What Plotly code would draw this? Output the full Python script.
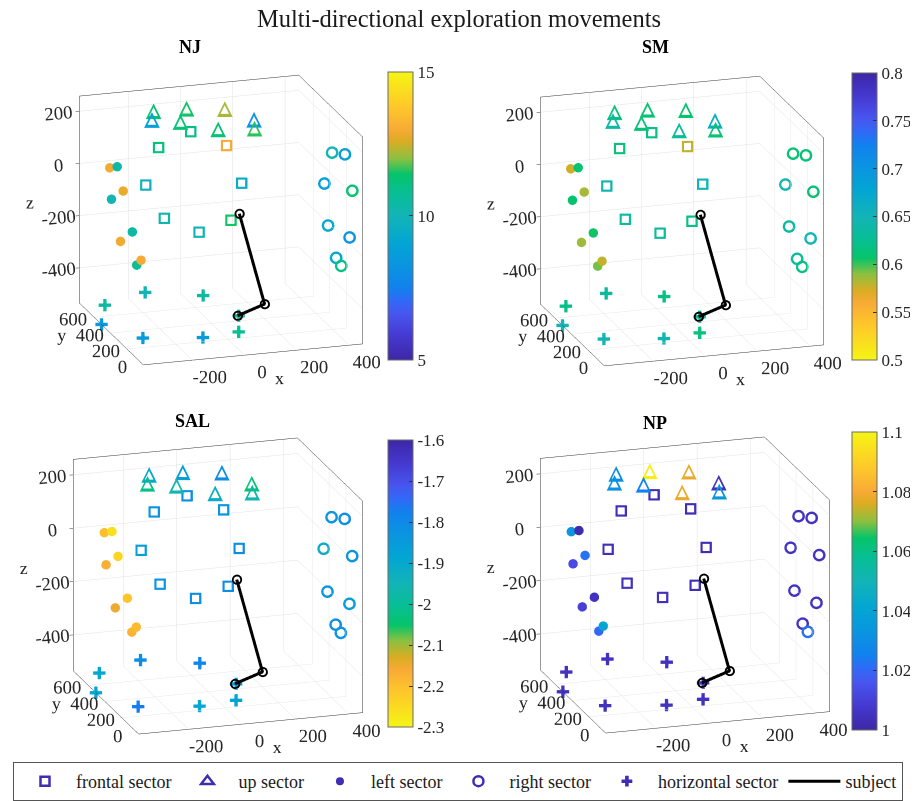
import plotly.graph_objects as go
from plotly.colors import sample_colorscale

SERIF = "Liberation Serif"
GLYPH = "DejaVu Sans"

# ---------------- target positions (same in all panels) ----------------
front_x = [-2, -125, 135, -174, 193, -103, 30, 152]
front_y = [650, 650, 650, 650, 650, 650, 650, 650]
front_z = [124, 75, 58, -64, -92, -198, -264, -230]

up_x = [-129, -166, -5, -74, 127, 31, 190, 160]
up_y = [698, 600, 691, 546, 645, 420, 490, 389]
up_z = [200, 200, 200, 200, 200, 200, 200, 200]

left_x = [-360, -360, -360, -360, -360, -360, -360, -360]
left_y = [496, 405, 332, 475, 221, 365, 168, 115]
left_z = [67, 99, 28, -47, -95, -175, -206, -171]

right_x = [440, 440, 440, 440, 440, 440, 440, 440]
right_y = [337, 181, 431, 91, 386, 124, 288, 226]
right_z = [97, 138, -50, 26, -197, -163, -291, -303]

horiz_x = [-148, 71, -306, -387, -292, -81, 64, 122]
horiz_y = [740, 731, 728, 511, 310, 250, 276, 460]
horiz_z = [-505, -535, -535, -535, -535, -535, -535, -535]

subj_x = [158, 242, 106]
subj_y = [565, 525, 421]
subj_z = [-180, -522, -522]

# ---------------- values per panel ----------------
panels = ["NJ", "SM", "SAL", "NP"]
cmins = {"NJ": 5, "SM": 0.5, "SAL": -2.3, "NP": 1.0}
cmaxs = {"NJ": 15, "SM": 0.8, "SAL": -1.6, "NP": 1.1}
reverse = {"NJ": False, "SM": True, "SAL": True, "NP": False}
cb_ticks = {
    "NJ": [5, 10, 15],
    "SM": [0.5, 0.55, 0.6, 0.65, 0.7, 0.75, 0.8],
    "SAL": [-2.3, -2.2, -2.1, -2.0, -1.9, -1.8, -1.7, -1.6],
    "NP": [1.0, 1.02, 1.04, 1.06, 1.08, 1.1],
}
cb_labels = {
    "NJ": ["5", "10", "15"],
    "SM": ["0.5", "0.55", "0.6", "0.65", "0.7", "0.75", "0.8"],
    "SAL": ["-2.3", "-2.2", "-2.1", "-2", "-1.9", "-1.8", "-1.7", "-1.6"],
    "NP": ["1", "1.02", "1.04", "1.06", "1.08", "1.1"],
}

front_v = {
    "NJ": [11.0, 11.2, 13.0, 9.8, 9.5, 10.2, 10.0, 11.5],
    "SM": [0.62, 0.614, 0.578, 0.644, 0.65, 0.632, 0.635, 0.62],
    "SAL": [-1.81, -1.83, -1.83, -1.86, -1.81, -1.83, -1.81, -1.81],
    "NP": [1.003, 1.004, 1.003, 1.004, 1.003, 1.005, 1.004, 1.003],
}
up_v = {
    "NJ": [11.3, 8.8, 11.5, 11.2, 12.2, 11.3, 8.2, 11.6],
    "SM": [0.614, 0.64, 0.61, 0.614, 0.608, 0.63, 0.66, 0.61],
    "SAL": [-1.89, -2.02, -1.86, -1.96, -1.81, -1.92, -2.04, -1.96],
    "NP": [1.03, 1.032, 1.098, 1.025, 1.078, 1.078, 1.005, 1.035],
}
left_v = {
    "NJ": [12.9, 10.3, 12.8, 10.1, 10.5, 12.9, 10.8, 13.0],
    "SM": [0.575, 0.61, 0.584, 0.608, 0.605, 0.586, 0.593, 0.578],
    "SAL": [-2.195, -2.26, -2.24, -2.17, -2.21, -2.15, -2.18, -2.19],
    "NP": [1.033, 1.002, 1.022, 1.013, 1.005, 1.01, 1.02, 1.04],
}
right_v = {
    "NJ": [10.0, 8.8, 8.7, 11.3, 9.2, 8.3, 9.2, 11.0],
    "SM": [0.612, 0.612, 0.645, 0.612, 0.635, 0.65, 0.635, 0.618],
    "SAL": [-1.83, -1.81, -1.915, -1.83, -1.83, -1.86, -1.81, -1.83],
    "NP": [1.005, 1.005, 1.005, 1.005, 1.005, 1.005, 1.005, 1.022],
}
horiz_v = {
    "NJ": [10.0, 10.5, 10.5, 8.5, 8.6, 8.6, 10.8, 10.5],
    "SM": [0.63, 0.618, 0.62, 0.65, 0.65, 0.645, 0.615, 0.63],
    "SAL": [-1.81, -1.79, -1.89, -1.88, -1.77, -1.89, -1.88, -1.85],
    "NP": [1.005, 1.005, 1.005, 1.005, 1.005, 1.005, 1.005, 1.005],
}

parula = [
    [0.00, "#3D27A6"], [0.08, "#4538CF"], [0.16, "#4756EF"], [0.21, "#2E6BF6"],
    [0.25, "#1181EE"], [0.33, "#0A95E0"], [0.41, "#03A6D2"], [0.50, "#12B4B6"],
    [0.58, "#08BE94"], [0.645, "#06C46A"], [0.70, "#8CC040"], [0.76, "#DCAC22"],
    [0.80, "#F8AA36"], [0.88, "#FEC82A"], [1.00, "#F5F514"],
]

# ---------------- layout geometry (figure pixels; page has an 8px body margin) ----------------
W, H = 910, 793
scene_centers = {"NJ": (213, 213), "SM": (674, 214), "SAL": (210, 581), "NP": (677, 580)}
zoom = {"NJ": 1.36, "SM": 1.36, "SAL": 1.39, "NP": 1.39}
cb_geom = {"NJ": (380, 65, 353), "SM": (844, 66, 353), "SAL": (380, 435, 722), "NP": (844, 427, 725)}
title_pos = {"NJ": (182, 39), "SM": (647, 39), "SAL": (184, 415), "NP": (647, 417)}

x_rng, y_rng, z_rng = [-387, 452], [0, 778], [-535, 258]
span = max(x_rng[1] - x_rng[0], y_rng[1] - y_rng[0], z_rng[1] - z_rng[0])
view_dir = (-0.2857, -0.9089, 0.304)


def colors_for(vals, p):
    lo, hi = cmins[p], cmaxs[p]
    ts = [min(max((v - lo) / (hi - lo), 0), 1) for v in vals]
    if reverse[p]:
        ts = [1 - t for t in ts]
    return sample_colorscale(parula, ts)


def axis(title, rng, tv, angle=None, ticklen=4, tickcolor="#333333"):
    d = dict(
        title=dict(text=title, font=dict(family=SERIF, size=18, color="#262626")),
        range=rng, autorange=False, tickvals=tv, ticktext=[str(v) for v in tv],
        showgrid=True, gridcolor="#e2e2e2", gridwidth=1,
        showbackground=False, showline=True, linecolor="#333333", linewidth=1,
        mirror=True, zeroline=False, showspikes=False,
        ticks="outside", ticklen=ticklen, tickcolor=tickcolor,
        tickfont=dict(family=SERIF, size=15, color="#262626"),
    )
    if angle is not None:
        d["tickangle"] = angle
    return d


fig = go.Figure()
layout_scenes = {}
annotations = []

for i, p in enumerate(panels):
    sid = "scene" if i == 0 else f"scene{i + 1}"
    cx, cy = scene_centers[p]
    w_half, h_half = 210, 170
    dom = dict(x=[max(0, (cx - w_half) / W), min(1, (cx + w_half) / W)],
               y=[1 - (cy + h_half) / H, 1 - (cy - h_half) / H])
    k = zoom[p]
    aspect = dict(x=k * (x_rng[1] - x_rng[0]) / span, y=k * (y_rng[1] - y_rng[0]) / span,
                  z=k * (z_rng[1] - z_rng[0]) / span)
    r = 2.0
    layout_scenes[sid] = dict(
        domain=dom,
        xaxis=axis("x", x_rng, [-200, 0, 200, 400], angle=0, ticklen=4, tickcolor="rgba(0,0,0,0)"),
        yaxis=axis("y", y_rng, [0, 200, 400, 600], angle=0, ticklen=40, tickcolor="rgba(0,0,0,0)"),
        zaxis=axis("z", z_rng, [-400, -200, 0, 200]),
        aspectmode="manual", aspectratio=aspect,
        camera=dict(eye=dict(x=view_dir[0] * r, y=view_dir[1] * r, z=view_dir[2] * r),
                    center=dict(x=0, y=0, z=0), up=dict(x=0, y=0, z=1),
                    projection=dict(type="orthographic")),
        bgcolor="white",
    )
    cbx, cbt, cbb = cb_geom[p]
    # left sector: filled dots, carries the colour bar
    fig.add_trace(go.Scatter3d(
        x=left_x, y=left_y, z=left_z, mode="markers", scene=sid, showlegend=False,
        marker=dict(symbol="circle", size=5.5, color=left_v[p], colorscale=parula,
                    cmin=cmins[p], cmax=cmaxs[p], reversescale=reverse[p], showscale=True,
                    colorbar=dict(x=cbx / W, xanchor="left", xpad=0, ypad=0,
                                  y=1 - (cbt + cbb) / 2 / H, yanchor="middle",
                                  len=cbb - cbt, lenmode="pixels",
                                  thickness=25, thicknessmode="pixels",
                                  outlinewidth=1, outlinecolor="#6b6b6b",
                                  tickvals=cb_ticks[p], ticktext=cb_labels[p],
                                  ticks="inside", ticklen=4, tickcolor="#333",
                                  tickfont=dict(family=SERIF, size=17, color="#262626"))),
        hoverinfo="skip"))
    # frontal squares (stacked outlines give a thick stroke)
    for s in (3.4, 3.75, 4.1, 4.45, 4.8):
        fig.add_trace(go.Scatter3d(
            x=front_x, y=front_y, z=front_z, mode="markers", scene=sid, showlegend=False,
            marker=dict(symbol="square-open", size=s, color=colors_for(front_v[p], p)),
            hoverinfo="skip"))
    # up triangles
    for s in (14.5, 16, 17.5, 19, 20.5):
        fig.add_trace(go.Scatter3d(
            x=up_x, y=up_y, z=up_z, mode="text", scene=sid, showlegend=False,
            text=["\u25b3"] * len(up_x), textposition="middle center",
            textfont=dict(family=GLYPH, size=s, color=colors_for(up_v[p], p)),
            hoverinfo="skip"))
    # right circles
    for s in (5.6, 6.0, 6.4, 6.8, 7.2):
        fig.add_trace(go.Scatter3d(
            x=right_x, y=right_y, z=right_z, mode="markers", scene=sid, showlegend=False,
            marker=dict(symbol="circle-open", size=s, color=colors_for(right_v[p], p)),
            hoverinfo="skip"))
    # horizontal pluses
    fig.add_trace(go.Scatter3d(
        x=horiz_x, y=horiz_y, z=horiz_z, mode="text", scene=sid, showlegend=False,
        text=["\u271a"] * len(horiz_x), textposition="middle center",
        textfont=dict(family=GLYPH, size=17, color=colors_for(horiz_v[p], p)),
        hoverinfo="skip"))
    # subject
    fig.add_trace(go.Scatter3d(
        x=subj_x, y=subj_y, z=subj_z, mode="lines", scene=sid, showlegend=False,
        line=dict(color="black", width=6), hoverinfo="skip"))
    for s in (4.6, 5.0, 5.4, 5.8):
        fig.add_trace(go.Scatter3d(
            x=subj_x, y=subj_y, z=subj_z, mode="markers", scene=sid, showlegend=False,
            marker=dict(symbol="circle-open", size=s, color="black"), hoverinfo="skip"))
    tx, ty = title_pos[p]
    annotations.append(dict(text=f"<b>{p}</b>", x=tx / W, y=1 - ty / H, xref="paper", yref="paper",
                            showarrow=False, xanchor="center", yanchor="middle",
                            font=dict(family=SERIF, size=18, color="black")))

# legend entries
PURPLE = "#3F2DB4"
legend_items = [
    ("frontal sector", dict(symbol="square-open", size=9, color=PURPLE, line=dict(width=2.5, color=PURPLE))),
    ("up sector", dict(symbol="triangle-up-open", size=11, color=PURPLE, line=dict(width=2.5, color=PURPLE))),
    ("left sector", dict(symbol="circle", size=8, color=PURPLE)),
    ("right sector", dict(symbol="circle-open", size=10, color=PURPLE, line=dict(width=2.5, color=PURPLE))),
    ("horizontal sector", dict(symbol="cross", size=9, color=PURPLE)),
]
for name, mk in legend_items:
    fig.add_trace(go.Scatter(x=[None], y=[None], mode="markers", marker=mk, name=name))
fig.add_trace(go.Scatter(x=[None], y=[None], mode="lines", line=dict(color="black", width=3), name="subject"))

fig.update_layout(
    width=W, height=H, margin=dict(l=0, r=0, t=0, b=0),
    paper_bgcolor="white", plot_bgcolor="rgba(0,0,0,0)",
    title=dict(text="Multi-directional exploration movements", x=451 / W, xanchor="center",
               y=1 - 10 / H, yanchor="middle", font=dict(family=SERIF, size=24.5, color="#1a1a1a")),
    xaxis=dict(visible=False, domain=[0, 0.01]), yaxis=dict(visible=False, domain=[0, 0.01]),
    legend=dict(orientation="h", x=450 / W, xanchor="center", y=1 - 758 / H, yanchor="top",
                bordercolor="#555555", borderwidth=1, bgcolor="white",
                font=dict(family=SERIF, size=18, color="#1a1a1a"),
                itemwidth=52),
    annotations=annotations,
    **layout_scenes,
)

fig.write_html("out.html")
